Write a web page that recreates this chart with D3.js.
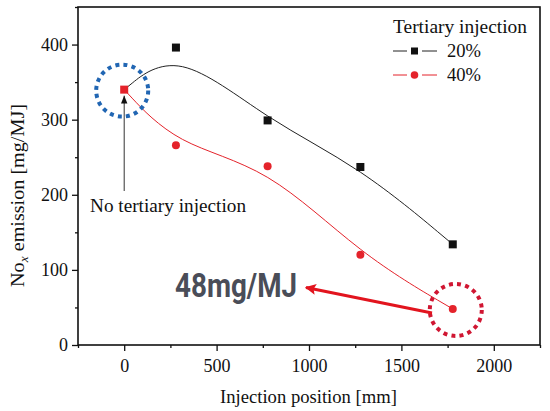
<!DOCTYPE html>
<html><head><meta charset="utf-8">
<script src="https://cdn.jsdelivr.net/npm/d3@7/dist/d3.min.js"></script>
<style>
body{margin:0;background:#fff;}
</style></head>
<body><svg id="c" width="550" height="411"></svg>
<script>
const positions = [0, 280, 776, 1278, 1778];
const series20 = [340, 396, 299, 237, 134];
const series40 = [340, 266, 238, 120, 48];
const seriesNames = ["20%", "40%"];
const xTicks = [0, 500, 1000, 1500, 2000];
const yTicks = [0, 100, 200, 300, 400];

const SERIF = "'Liberation Serif', 'Times New Roman', serif";
const SANS = "Roboto, 'Liberation Sans', sans-serif";
const svg = d3.select("#c");
const L = 78, R = 540, T = 7, B = 345;
const x = d3.scaleLinear().domain([-250, 2250]).range([L, R]);
const y = d3.scaleLinear().domain([0, 450]).range([B, T]);
const black = "#111", red = "#e4232b";

// minor ticks
const xMinor = d3.range(-250, 2251, 250).filter(v => v % 500 !== 0);
const yMinor = d3.range(50, 451, 100);
svg.append("g").attr("transform", `translate(0,${B})`)
  .call(d3.axisBottom(x).tickValues(xMinor).tickSize(3).tickFormat(""))
  .call(g => g.select(".domain").remove())
  .selectAll("line").attr("stroke", black).attr("stroke-width", 1.3);
svg.append("g").attr("transform", `translate(${L},0)`)
  .call(d3.axisLeft(y).tickValues(yMinor).tickSize(3).tickFormat(""))
  .call(g => g.select(".domain").remove())
  .selectAll("line").attr("stroke", black).attr("stroke-width", 1.3);

// major axes
const xa = svg.append("g").attr("transform", `translate(0,${B})`)
  .call(d3.axisBottom(x).tickValues(xTicks).tickFormat(d3.format("d")).tickSize(6).tickPadding(8));
xa.select(".domain").remove();
xa.selectAll("line").attr("stroke", black).attr("stroke-width", 1.3);
xa.selectAll("text").style("font-size", "18px").attr("fill", black).style("font-family", SERIF);
const ya = svg.append("g").attr("transform", `translate(${L},0)`)
  .call(d3.axisLeft(y).tickValues(yTicks).tickFormat(d3.format("d")).tickSize(6).tickPadding(4));
ya.select(".domain").remove();
ya.selectAll("line").attr("stroke", black).attr("stroke-width", 1.3);
ya.selectAll("text").style("font-size", "18px").attr("fill", black).style("font-family", SERIF);

// frame
svg.append("rect").attr("x", L).attr("y", T).attr("width", R - L).attr("height", B - T)
  .attr("fill", "none").attr("stroke", black).attr("stroke-width", 1.6);

// curves
const line = d3.line().x(d => x(d[0])).y(d => y(d[1])).curve(d3.curveBasis);
const d20 = positions.map((p, i) => [p, series20[i]]);
const d40 = positions.map((p, i) => [p, series40[i]]);
svg.append("path").attr("d", line(d20)).attr("fill", "none").attr("stroke", "#222").attr("stroke-width", 1);
svg.append("path").attr("d", line(d40)).attr("fill", "none").attr("stroke", red).attr("stroke-width", 1);

// markers
svg.selectAll(".sq").data(d20.slice(1)).join("rect")
  .attr("x", d => x(d[0]) - 4).attr("y", d => y(d[1]) - 4)
  .attr("width", 8).attr("height", 8).attr("fill", black);
svg.selectAll(".ci").data(d40.slice(1)).join("circle")
  .attr("cx", d => x(d[0])).attr("cy", d => y(d[1])).attr("r", 4).attr("fill", red);
svg.append("rect").attr("x", x(positions[0]) - 4).attr("y", y(series40[0]) - 4)
  .attr("width", 8).attr("height", 8).attr("fill", red);

// dotted circles
svg.append("circle").attr("cx", x(positions[0]) - 2).attr("cy", y(series40[0]) + 1).attr("r", 26)
  .attr("fill", "none").attr("stroke", "#2166b3").attr("stroke-width", 4)
  .attr("stroke-dasharray", "4 4.2");
svg.append("circle").attr("cx", x(positions[4]) + 3).attr("cy", y(series40[4]) + 1).attr("r", 26)
  .attr("fill", "none").attr("stroke", "#d01632").attr("stroke-width", 4)
  .attr("stroke-dasharray", "4 4.2");

// black arrow
const defs = svg.append("defs");
defs.append("marker").attr("id", "ah").attr("viewBox", "0 0 10 10").attr("refX", 10).attr("refY", 5)
  .attr("markerWidth", 8).attr("markerHeight", 8).attr("markerUnits", "userSpaceOnUse").attr("orient", "auto")
  .append("path").attr("d", "M0,1 L10,5 L0,9 Z").attr("fill", black);
svg.append("line").attr("x1", x(positions[0])).attr("y1", 191)
  .attr("x2", x(positions[0])).attr("y2", y(series40[0]) + 6)
  .attr("stroke", "#333").attr("stroke-width", 1).attr("marker-end", "url(#ah)");
svg.append("text").attr("x", 90).attr("y", 212).style("font-size", "18px").style("font-family", SERIF)
  .attr("textLength", 156).attr("lengthAdjust", "spacingAndGlyphs")
  .attr("fill", black).text("No tertiary injection");

// red arrow
defs.append("marker").attr("id", "ahr").attr("viewBox", "0 0 10 10").attr("refX", 9).attr("refY", 5)
  .attr("markerWidth", 16).attr("markerHeight", 11).attr("markerUnits", "userSpaceOnUse").attr("orient", "auto")
  .append("path").attr("d", "M0,0 L10,5 L0,10 L2,5 Z").attr("fill", "#e2141e");
svg.append("line").attr("x1", 432).attr("y1", 313).attr("x2", 306).attr("y2", 287.5)
  .attr("stroke", "#e2141e").attr("stroke-width", 3).attr("marker-end", "url(#ahr)");

svg.append("text").attr("x", 175).attr("y", 297).style("font-size", "34px")
  .style("font-family", SANS).style("font-weight", "bold")
  .attr("fill", "#4a4d58").attr("textLength", 122).attr("lengthAdjust", "spacingAndGlyphs")
  .text("48mg/MJ");

// axis titles
svg.append("text").attr("x", 308.5).attr("y", 403).attr("text-anchor", "middle")
  .attr("textLength", 177).attr("lengthAdjust", "spacingAndGlyphs")
  .style("font-size", "18px").style("font-family", SERIF).attr("fill", black).text("Injection position [mm]");
const yt = svg.append("text").attr("transform", "translate(24,195.5) rotate(-90) scale(1.12,1)")
  .attr("text-anchor", "middle").style("font-size", "18px").style("font-family", SERIF).attr("fill", black);
yt.append("tspan").text("No");
yt.append("tspan").style("font-size", "12px").style("font-style", "italic").attr("dy", 4).text("x");
yt.append("tspan").attr("dy", -4).text(" emission [mg/MJ]");

// legend
svg.append("text").attr("x", 393).attr("y", 33).style("font-size", "18px").style("font-family", SERIF)
  .attr("textLength", 134).attr("lengthAdjust", "spacingAndGlyphs")
  .attr("fill", black).text("Tertiary injection");
const lg = [{name: seriesNames[0], c: "#222", m: "sq", yy: 51}, {name: seriesNames[1], c: red, m: "ci", yy: 75}];
lg.forEach(o => {
  svg.append("line").attr("x1", 393).attr("x2", 407).attr("y1", o.yy).attr("y2", o.yy).attr("stroke", o.c).attr("stroke-width", 1);
  svg.append("line").attr("x1", 422).attr("x2", 437).attr("y1", o.yy).attr("y2", o.yy).attr("stroke", o.c).attr("stroke-width", 1);
  if (o.m === "sq") svg.append("rect").attr("x", 411).attr("y", o.yy - 3.5).attr("width", 7).attr("height", 7).attr("fill", black);
  else svg.append("circle").attr("cx", 414.5).attr("cy", o.yy).attr("r", 3.8).attr("fill", red);
  svg.append("text").attr("x", 447).attr("y", o.yy + 6).style("font-size", "18px").style("font-family", SERIF)
    .attr("textLength", 34).attr("lengthAdjust", "spacingAndGlyphs")
    .attr("fill", black).text(o.name);
});
</script></body></html>
